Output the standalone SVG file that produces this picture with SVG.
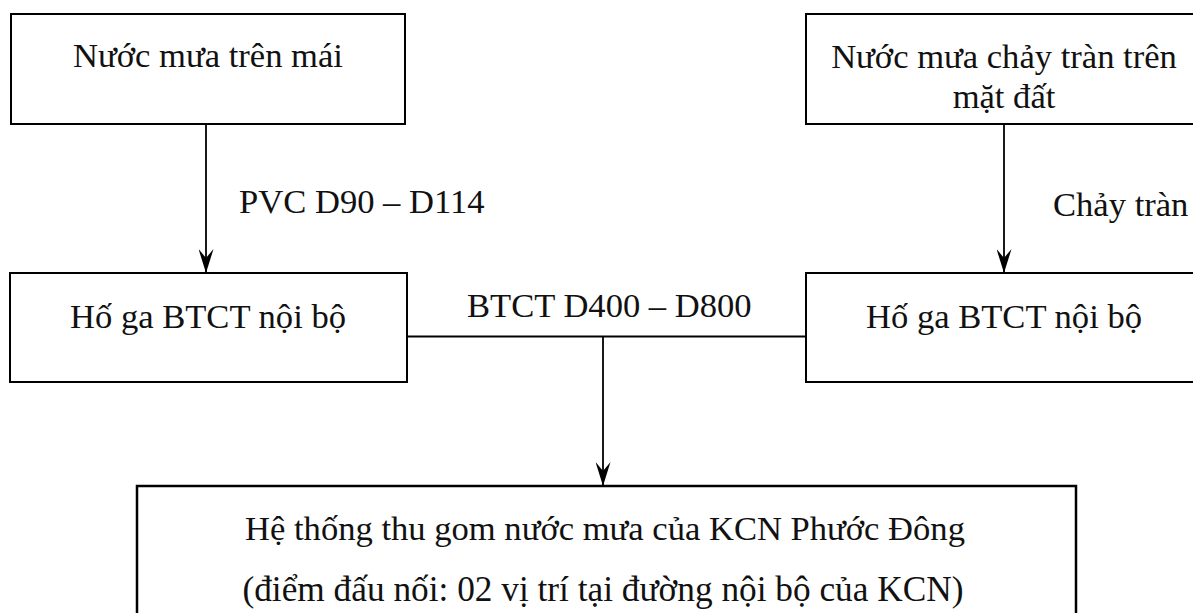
<svg xmlns="http://www.w3.org/2000/svg" width="1193" height="613" viewBox="0 0 1193 613">
  <style>
    .box { fill: #ffffff; stroke: #000000; stroke-width: 2; }
    .box-thick { fill: #ffffff; stroke: #000000; stroke-width: 2.5; }
    .link { fill: none; stroke: #000000; stroke-width: 1.8; }
    .txt { font-family: "Liberation Serif", "Times New Roman", serif; font-size: 34.6px; fill: #111111; text-anchor: middle; }
    .txt-big { font-family: "Liberation Serif", "Times New Roman", serif; font-size: 35.3px; fill: #111111; text-anchor: middle; }
    .lbl { font-family: "Liberation Serif", "Times New Roman", serif; font-size: 34.6px; fill: #111111; }
  </style>
  <defs>
    <!-- notched solid arrowhead, 24 long x 15 wide -->
    <marker id="arrow" markerUnits="userSpaceOnUse" markerWidth="24" markerHeight="15" refX="24" refY="7.5" orient="auto" viewBox="0 0 24 15">
      <path d="M24,7.5 L0,0 L9,7.5 L0,15 Z" fill="#000000"/>
    </marker>
  </defs>

  <rect width="1193" height="613" fill="#ffffff"/>

  <!-- connectors -->
  <g id="connectors">
    <line class="link" x1="206" y1="124" x2="206" y2="273" marker-end="url(#arrow)"/>
    <line class="link" x1="1004" y1="124" x2="1004" y2="273" marker-end="url(#arrow)"/>
    <line class="link" x1="407" y1="336.5" x2="806" y2="336.5"/>
    <line class="link" x1="603" y1="336.5" x2="603" y2="486" marker-end="url(#arrow)"/>
    <text class="lbl" x="239" y="213">PVC D90 – D114</text>
    <text class="lbl" x="1053" y="216">Chảy tràn</text>
    <text class="lbl" x="467" y="317">BTCT D400 – D800</text>
  </g>

  <!-- roof rainwater -->
  <g id="roof-rain">
    <rect class="box" x="11" y="14" width="394" height="110"/>
    <text class="txt" x="208" y="67">Nước mưa trên mái</text>
  </g>

  <!-- surface runoff -->
  <g id="surface-runoff">
    <rect class="box" x="806" y="14" width="400" height="110"/>
    <text class="txt" x="1004" y="68">Nước mưa chảy tràn trên</text>
    <text class="txt" x="1004" y="108">mặt đất</text>
  </g>

  <!-- internal manhole, left -->
  <g id="manhole-left">
    <rect class="box" x="10" y="273" width="397" height="109"/>
    <text class="txt" x="208" y="328">Hố ga BTCT nội bộ</text>
  </g>

  <!-- internal manhole, right -->
  <g id="manhole-right">
    <rect class="box" x="806" y="273" width="400" height="109"/>
    <text class="txt" x="1004" y="328">Hố ga BTCT nội bộ</text>
  </g>

  <!-- industrial park collection system -->
  <g id="kcn-system">
    <rect class="box-thick" x="137" y="486" width="939" height="160"/>
    <text class="txt" x="605" y="540">Hệ thống thu gom nước mưa của KCN Phước Đông</text>
    <text class="txt-big" x="603" y="601">(điểm đấu nối: 02 vị trí tại đường nội bộ của KCN)</text>
  </g>
</svg>
